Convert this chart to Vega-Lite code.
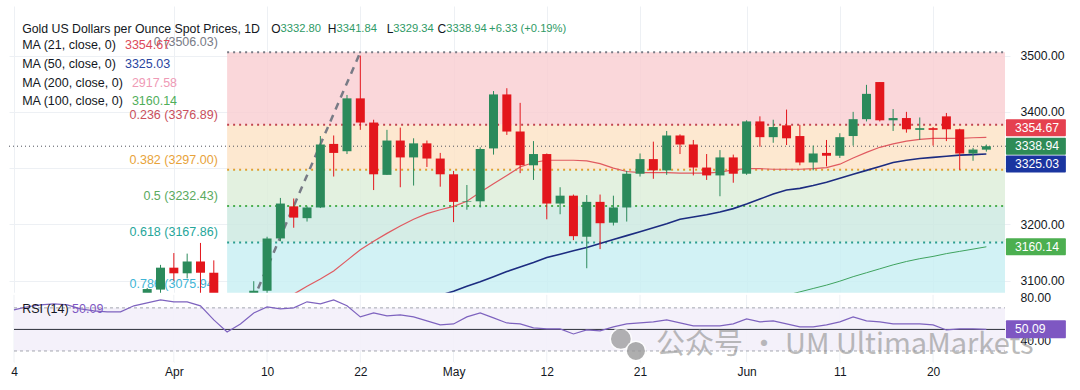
{
"$schema":"https://vega.github.io/schema/vega-lite/v6.json",
"background":"#ffffff",
"autosize":{"type":"fit","contains":"padding"},
"padding":{"left":8,"top":6,"right":9,"bottom":13},
"width":1080,"height":390,
"config":{"view":{"stroke":null},"font":"Liberation Sans","text":{"font":"Liberation Sans"},
 "axis":{"domain":false,"ticks":false,"gridColor":"#edf0f4","gridWidth":1,"labelColor":"#131722","labelFont":"Liberation Sans","labelFontSize":12.2}},
"datasets":{
"candles":[
{"t":-2,"d":"2025-03-28","o":3057,"h":3087,"l":3054,"c":3085},
{"t":-1,"d":"2025-03-31","o":3084,"h":3128,"l":3076,"c":3123},
{"t":0,"d":"2025-04-01","o":3123,"h":3149,"l":3100,"c":3113},
{"t":1,"d":"2025-04-02","o":3113,"h":3148,"l":3104,"c":3134},
{"t":2,"d":"2025-04-03","o":3134,"h":3167,"l":3054,"c":3114},
{"t":3,"d":"2025-04-04","o":3114,"h":3136,"l":3015,"c":3037},
{"t":4,"d":"2025-04-07","o":3037,"h":3055,"l":2957,"c":2982},
{"t":5,"d":"2025-04-08","o":2982,"h":3023,"l":2970,"c":2983},
{"t":6,"d":"2025-04-09","o":2983,"h":3099,"l":2957,"c":3082},
{"t":7,"d":"2025-04-10","o":3082,"h":3178,"l":3073,"c":3175},
{"t":8,"d":"2025-04-11","o":3175,"h":3247,"l":3170,"c":3237},
{"t":9,"d":"2025-04-14","o":3232,"h":3246,"l":3194,"c":3212},
{"t":10,"d":"2025-04-15","o":3211,"h":3232,"l":3205,"c":3230},
{"t":11,"d":"2025-04-16","o":3230,"h":3357,"l":3229,"c":3342},
{"t":12,"d":"2025-04-17","o":3343,"h":3358,"l":3285,"c":3327},
{"t":13,"d":"2025-04-21","o":3330,"h":3430,"l":3325,"c":3424},
{"t":14,"d":"2025-04-22","o":3424,"h":3500,"l":3368,"c":3381},
{"t":15,"d":"2025-04-23","o":3381,"h":3386,"l":3261,"c":3289},
{"t":16,"d":"2025-04-24","o":3288,"h":3368,"l":3288,"c":3349},
{"t":17,"d":"2025-04-25","o":3349,"h":3372,"l":3266,"c":3319},
{"t":18,"d":"2025-04-28","o":3319,"h":3353,"l":3269,"c":3344},
{"t":19,"d":"2025-04-29","o":3344,"h":3349,"l":3302,"c":3317},
{"t":20,"d":"2025-04-30","o":3317,"h":3327,"l":3267,"c":3289},
{"t":21,"d":"2025-05-01","o":3289,"h":3295,"l":3204,"c":3240},
{"t":22,"d":"2025-05-02","o":3240,"h":3270,"l":3226,"c":3241},
{"t":23,"d":"2025-05-05","o":3241,"h":3337,"l":3230,"c":3334},
{"t":24,"d":"2025-05-06","o":3335,"h":3437,"l":3324,"c":3431},
{"t":25,"d":"2025-05-07","o":3431,"h":3442,"l":3359,"c":3365},
{"t":26,"d":"2025-05-08","o":3365,"h":3416,"l":3291,"c":3305},
{"t":27,"d":"2025-05-09","o":3305,"h":3348,"l":3279,"c":3325},
{"t":28,"d":"2025-05-12","o":3325,"h":3326,"l":3209,"c":3237},
{"t":29,"d":"2025-05-13","o":3237,"h":3266,"l":3218,"c":3251},
{"t":30,"d":"2025-05-14","o":3251,"h":3253,"l":3172,"c":3179},
{"t":31,"d":"2025-05-15","o":3178,"h":3252,"l":3122,"c":3240},
{"t":32,"d":"2025-05-16","o":3240,"h":3253,"l":3156,"c":3202},
{"t":33,"d":"2025-05-19","o":3203,"h":3251,"l":3198,"c":3230},
{"t":34,"d":"2025-05-20","o":3230,"h":3295,"l":3205,"c":3290},
{"t":35,"d":"2025-05-21","o":3290,"h":3326,"l":3285,"c":3316},
{"t":36,"d":"2025-05-22","o":3316,"h":3347,"l":3281,"c":3296},
{"t":37,"d":"2025-05-23","o":3296,"h":3366,"l":3288,"c":3358},
{"t":38,"d":"2025-05-26","o":3358,"h":3360,"l":3325,"c":3342},
{"t":39,"d":"2025-05-27","o":3342,"h":3350,"l":3287,"c":3301},
{"t":40,"d":"2025-05-28","o":3301,"h":3325,"l":3279,"c":3287},
{"t":41,"d":"2025-05-29","o":3287,"h":3332,"l":3250,"c":3319},
{"t":42,"d":"2025-05-30","o":3319,"h":3324,"l":3274,"c":3290},
{"t":43,"d":"2025-06-02","o":3290,"h":3385,"l":3288,"c":3383},
{"t":44,"d":"2025-06-03","o":3383,"h":3392,"l":3338,"c":3355},
{"t":45,"d":"2025-06-04","o":3355,"h":3386,"l":3345,"c":3373},
{"t":46,"d":"2025-06-05","o":3376,"h":3404,"l":3341,"c":3353},
{"t":47,"d":"2025-06-06","o":3357,"h":3377,"l":3305,"c":3310},
{"t":48,"d":"2025-06-09","o":3310,"h":3340,"l":3296,"c":3326},
{"t":49,"d":"2025-06-10","o":3327,"h":3350,"l":3303,"c":3322},
{"t":50,"d":"2025-06-11","o":3322,"h":3362,"l":3318,"c":3355},
{"t":51,"d":"2025-06-12","o":3357,"h":3400,"l":3340,"c":3387},
{"t":52,"d":"2025-06-13","o":3387,"h":3448,"l":3383,"c":3432},
{"t":53,"d":"2025-06-16","o":3453,"h":3453,"l":3383,"c":3385},
{"t":54,"d":"2025-06-17","o":3385,"h":3405,"l":3366,"c":3389},
{"t":55,"d":"2025-06-18","o":3389,"h":3400,"l":3363,"c":3369},
{"t":56,"d":"2025-06-19","o":3368,"h":3390,"l":3350,"c":3371},
{"t":57,"d":"2025-06-20","o":3371,"h":3373,"l":3340,"c":3368},
{"t":58,"d":"2025-06-23","o":3392,"h":3398,"l":3348,"c":3369},
{"t":59,"d":"2025-06-24","o":3369,"h":3370,"l":3297,"c":3326},
{"t":60,"d":"2025-06-25","o":3326,"h":3336,"l":3313,"c":3333},
{"t":61,"d":"2025-06-26","o":3332.80,"h":3341.84,"l":3329.34,"c":3338.94}
],
"ma":[
{"s":"MA21","t":3,"v":3035},{"s":"MA21","t":4,"v":3038},{"s":"MA21","t":5,"v":3043},{"s":"MA21","t":6,"v":3050},{"s":"MA21","t":7,"v":3058},{"s":"MA21","t":8,"v":3068},{"s":"MA21","t":9,"v":3076},{"s":"MA21","t":10,"v":3090},{"s":"MA21","t":11,"v":3103},{"s":"MA21","t":12,"v":3117},{"s":"MA21","t":13,"v":3136},{"s":"MA21","t":14,"v":3155},{"s":"MA21","t":15,"v":3170},{"s":"MA21","t":16,"v":3184},{"s":"MA21","t":17,"v":3197},{"s":"MA21","t":18,"v":3209},{"s":"MA21","t":19,"v":3219},{"s":"MA21","t":20,"v":3226},{"s":"MA21","t":21,"v":3232},{"s":"MA21","t":22,"v":3241},{"s":"MA21","t":23,"v":3257},{"s":"MA21","t":24,"v":3272},{"s":"MA21","t":25,"v":3287},{"s":"MA21","t":26,"v":3302},{"s":"MA21","t":27,"v":3310},{"s":"MA21","t":28,"v":3314},{"s":"MA21","t":29,"v":3314},{"s":"MA21","t":30,"v":3314},{"s":"MA21","t":31,"v":3313},{"s":"MA21","t":32,"v":3308},{"s":"MA21","t":33,"v":3300},{"s":"MA21","t":34,"v":3294},{"s":"MA21","t":35,"v":3292},{"s":"MA21","t":36,"v":3292},{"s":"MA21","t":37,"v":3292},{"s":"MA21","t":38,"v":3291},{"s":"MA21","t":39,"v":3291},{"s":"MA21","t":40,"v":3291},{"s":"MA21","t":41,"v":3293},{"s":"MA21","t":42,"v":3297},{"s":"MA21","t":43,"v":3299},{"s":"MA21","t":44,"v":3299},{"s":"MA21","t":45,"v":3298},{"s":"MA21","t":46,"v":3298},{"s":"MA21","t":47,"v":3298},{"s":"MA21","t":48,"v":3299},{"s":"MA21","t":49,"v":3301},{"s":"MA21","t":50,"v":3307},{"s":"MA21","t":51,"v":3318},{"s":"MA21","t":52,"v":3328},{"s":"MA21","t":53,"v":3337},{"s":"MA21","t":54,"v":3343},{"s":"MA21","t":55,"v":3348},{"s":"MA21","t":56,"v":3351},{"s":"MA21","t":57,"v":3353},{"s":"MA21","t":58,"v":3353},{"s":"MA21","t":59,"v":3353},{"s":"MA21","t":60,"v":3354},{"s":"MA21","t":61,"v":3354.67},
{"s":"MA50","t":15,"v":3040},{"s":"MA50","t":16,"v":3047},{"s":"MA50","t":17,"v":3054},{"s":"MA50","t":18,"v":3060},{"s":"MA50","t":19,"v":3067},{"s":"MA50","t":20,"v":3074},{"s":"MA50","t":21,"v":3081},{"s":"MA50","t":22,"v":3090},{"s":"MA50","t":23,"v":3098},{"s":"MA50","t":24,"v":3107},{"s":"MA50","t":25,"v":3116},{"s":"MA50","t":26,"v":3124},{"s":"MA50","t":27,"v":3132},{"s":"MA50","t":28,"v":3141},{"s":"MA50","t":29,"v":3147},{"s":"MA50","t":30,"v":3153},{"s":"MA50","t":31,"v":3159},{"s":"MA50","t":32,"v":3166},{"s":"MA50","t":33,"v":3173},{"s":"MA50","t":34,"v":3180},{"s":"MA50","t":35,"v":3187},{"s":"MA50","t":36,"v":3194},{"s":"MA50","t":37,"v":3201},{"s":"MA50","t":38,"v":3209},{"s":"MA50","t":39,"v":3213},{"s":"MA50","t":40,"v":3217},{"s":"MA50","t":41,"v":3222},{"s":"MA50","t":42,"v":3228},{"s":"MA50","t":43,"v":3236},{"s":"MA50","t":44,"v":3245},{"s":"MA50","t":45,"v":3254},{"s":"MA50","t":46,"v":3261},{"s":"MA50","t":47,"v":3264},{"s":"MA50","t":48,"v":3269},{"s":"MA50","t":49,"v":3275},{"s":"MA50","t":50,"v":3282},{"s":"MA50","t":51,"v":3289},{"s":"MA50","t":52,"v":3296},{"s":"MA50","t":53,"v":3303},{"s":"MA50","t":54,"v":3310},{"s":"MA50","t":55,"v":3314},{"s":"MA50","t":56,"v":3317},{"s":"MA50","t":57,"v":3319},{"s":"MA50","t":58,"v":3321},{"s":"MA50","t":59,"v":3323},{"s":"MA50","t":60,"v":3324},{"s":"MA50","t":61,"v":3325.03},
{"s":"MA100","t":45,"v":3068},{"s":"MA100","t":46,"v":3074},{"s":"MA100","t":47,"v":3080},{"s":"MA100","t":48,"v":3086},{"s":"MA100","t":49,"v":3092},{"s":"MA100","t":50,"v":3099},{"s":"MA100","t":51,"v":3107},{"s":"MA100","t":52,"v":3114},{"s":"MA100","t":53,"v":3121},{"s":"MA100","t":54,"v":3128},{"s":"MA100","t":55,"v":3134},{"s":"MA100","t":56,"v":3139},{"s":"MA100","t":57,"v":3143},{"s":"MA100","t":58,"v":3148},{"s":"MA100","t":59,"v":3152},{"s":"MA100","t":60,"v":3156},{"s":"MA100","t":61,"v":3160.14}
],
"rsi":[
{"t":-12,"v":68.1},{"t":-11,"v":71},{"t":-10,"v":72.8},{"t":-9,"v":73.7},{"t":-8,"v":72.8},{"t":-7,"v":69},{"t":-6,"v":67.2},{"t":-5,"v":66.3},{"t":-4,"v":66.3},{"t":-3,"v":71.9},{"t":-2,"v":74.7},{"t":-1,"v":77.4},{"t":0,"v":75.6},{"t":1,"v":75.6},{"t":2,"v":71.9},{"t":3,"v":58.8},{"t":4,"v":47.7},{"t":5,"v":55.1},{"t":6,"v":65.3},{"t":7,"v":70.9},{"t":8,"v":69},{"t":9,"v":70},{"t":10,"v":75.6},{"t":11,"v":73.7},{"t":12,"v":77.4},{"t":13,"v":71.9},{"t":14,"v":61.6},{"t":15,"v":65.3},{"t":16,"v":62.6},{"t":17,"v":63.5},{"t":18,"v":61.6},{"t":19,"v":57.9},{"t":20,"v":54.2},{"t":21,"v":55.1},{"t":22,"v":61.6},{"t":23,"v":65.3},{"t":24,"v":60.7},{"t":25,"v":56},{"t":26,"v":55.1},{"t":27,"v":51.4},{"t":28,"v":50.5},{"t":29,"v":50.5},{"t":30,"v":45.8},{"t":31,"v":49.5},{"t":32,"v":48.6},{"t":33,"v":52.3},{"t":34,"v":55.1},{"t":35,"v":56},{"t":36,"v":57},{"t":37,"v":58.8},{"t":38,"v":56},{"t":39,"v":53.3},{"t":40,"v":53.3},{"t":41,"v":53.3},{"t":42,"v":55.1},{"t":43,"v":59.8},{"t":44,"v":57},{"t":45,"v":57.9},{"t":46,"v":55.1},{"t":47,"v":52.3},{"t":48,"v":52.3},{"t":49,"v":54.2},{"t":50,"v":57},{"t":51,"v":61.6},{"t":52,"v":57.9},{"t":53,"v":57},{"t":54,"v":55.1},{"t":55,"v":55.1},{"t":56,"v":55.1},{"t":57,"v":54.2},{"t":58,"v":49.5},{"t":59,"v":50.5},{"t":60,"v":50.5},{"t":61,"v":50.09}
],
"fib":[
{"lv":"0","p":3506.03,"txt":"0 (3506.03)"},
{"lv":"0.236","p":3376.89,"txt":"0.236 (3376.89)"},
{"lv":"0.382","p":3297.00,"txt":"0.382 (3297.00)"},
{"lv":"0.5","p":3232.43,"txt":"0.5 (3232.43)"},
{"lv":"0.618","p":3167.86,"txt":"0.618 (3167.86)"},
{"lv":"0.786","p":3075.94,"txt":"0.786 (3075.94)"}
],
"fibBands":[
{"lv":"0.236","top":3506.03,"bot":3376.89},
{"lv":"0.382","top":3376.89,"bot":3297.00},
{"lv":"0.5","top":3297.00,"bot":3232.43},
{"lv":"0.618","top":3232.43,"bot":3167.86},
{"lv":"0.786","top":3167.86,"bot":3075.94}
],
"trend":[{"t":4,"p":2958.84},{"t":14,"p":3506.03}],
"tags":[{"k":"ma21","p":3354.67},{"k":"close","p":3338.94},{"k":"ma50","p":3325.03},{"k":"ma100","p":3160.14}],
"grid":[{"t":-12},{"t":0},{"t":7},{"t":14},{"t":21},{"t":28},{"t":35},{"t":43},{"t":50},{"t":57}]
},
"resolve":{"scale":{"y":"independent","color":"independent"},"axis":{"y":"independent"}},
"layer":[
{
"resolve":{"scale":{"color":"independent"}},
"layer":[
{"data":{"name":"candles"},"mark":{"type":"rule","clip":true,"opacity":0},
 "encoding":{
  "x":{"field":"t","type":"quantitative","title":null,"scale":{"domain":[-12,62.4],"nice":false,"zero":false},"axis":{"values":[-12,0,7,14,21,28,35,43,50,57],"labelExpr":"datum.value==-12?'4':datum.value==0?'Apr':datum.value==7?'10':datum.value==14?'22':datum.value==21?'May':datum.value==28?'12':datum.value==35?'21':datum.value==43?'Jun':datum.value==50?'11':'20'","labelPadding":4,"labelFontSize":12,"grid":true}},
  "y":{"field":"l","type":"quantitative","title":null,"scale":{"domain":[2964.2,3579.3],"nice":false,"zero":false},"axis":{"orient":"right","values":[3100,3200,3300,3400,3500],"labelExpr":"datum.value==3300?'':format(datum.value,'.2f')","labelPadding":10,"grid":true}},
  "y2":{"field":"h"}}},
{"data":{"name":"fibBands"},"mark":{"type":"rect","clip":true,"opacity":0.8},
 "encoding":{"x":{"datum":4},"x2":{"datum":62.4},
  "y":{"field":"top","type":"quantitative","title":null},"y2":{"field":"bot"},
  "color":{"field":"lv","type":"nominal","scale":{"domain":["0.236","0.382","0.5","0.618","0.786"],"range":["#f9cdd1","#fce2c4","#dcedd8","#cae8e0","#c7eff2"]},"legend":null}}},
{"data":{"name":"fib"},"mark":{"type":"rule","clip":true,"strokeDash":[2,4],"strokeWidth":2},
 "encoding":{"x":{"datum":4},"x2":{"datum":62.4},
  "y":{"field":"p","type":"quantitative","title":null},
  "color":{"field":"lv","type":"nominal","scale":{"domain":["0","0.236","0.382","0.5","0.618","0.786"],"range":["#787b86","#c2454f","#e0a030","#4caf50","#2a9d8f","#3cb9d6"]},"legend":null}}},
{"data":{"values":[{"p":3338.94}]},"mark":{"type":"rule","strokeDash":[1,3],"strokeWidth":1,"color":"#50535e"},
 "encoding":{"y":{"field":"p","type":"quantitative","title":null}}},
{"data":{"name":"fib"},"mark":{"type":"text","align":"right","baseline":"bottom","dy":-3,"fontSize":12.5},
 "encoding":{"x":{"datum":3.3},"y":{"field":"p","type":"quantitative","title":null},"text":{"field":"txt"},
  "color":{"field":"lv","type":"nominal","scale":{"domain":["0","0.236","0.382","0.5","0.618","0.786"],"range":["#787b86","#c94f5c","#e8a33a","#5aaa5e","#26a69a","#3fb5d6"]},"legend":null}}},
{"data":{"name":"trend"},"mark":{"type":"line","clip":true,"strokeDash":[7,6],"strokeWidth":2.5,"color":"#787b86"},
 "encoding":{"x":{"field":"t","type":"quantitative","title":null},"y":{"field":"p","type":"quantitative","title":null}}},
{"data":{"name":"ma"},"transform":[{"filter":"datum.s=='MA100'"}],"mark":{"type":"line","clip":true,"strokeWidth":1,"color":"#3fa35f"},
 "encoding":{"x":{"field":"t","type":"quantitative","title":null},"y":{"field":"v","type":"quantitative","title":null}}},
{"data":{"name":"ma"},"transform":[{"filter":"datum.s=='MA50'"}],"mark":{"type":"line","clip":true,"strokeWidth":1.6,"color":"#1c2c80"},
 "encoding":{"x":{"field":"t","type":"quantitative","title":null},"y":{"field":"v","type":"quantitative","title":null}}},
{"data":{"name":"ma"},"transform":[{"filter":"datum.s=='MA21'"}],"mark":{"type":"line","clip":true,"strokeWidth":1.2,"color":"#e05a60"},
 "encoding":{"x":{"field":"t","type":"quantitative","title":null},"y":{"field":"v","type":"quantitative","title":null}}},
{"data":{"name":"candles"},"mark":{"type":"rule","clip":true,"strokeWidth":1},
 "encoding":{"x":{"field":"t","type":"quantitative","title":null},"y":{"field":"l","type":"quantitative","title":null},"y2":{"field":"h"},
  "color":{"condition":{"test":"datum.c>=datum.o","value":"#2b8a5b"},"value":"#e3161c"}}},
{"data":{"name":"candles"},"mark":{"type":"bar","size":9,"clip":true,"minBandSize":1.2},
 "encoding":{"x":{"field":"t","type":"quantitative","title":null},"y":{"field":"o","type":"quantitative","title":null},"y2":{"field":"c"},
  "color":{"condition":{"test":"datum.c>=datum.o","value":"#2b8a5b"},"value":"#e3161c"}}},
{"data":{"name":"tags"},"transform":[{"filter":"datum.k=='ma21'"}],"mark":{"type":"bar","orient":"horizontal","size":17,"cornerRadius":1,"color":"#e5404f","yOffset":-9.5},
 "encoding":{"y":{"field":"p","type":"quantitative","title":null},"x":{"datum":62.47},"x2":{"datum":66.97}}},
{"data":{"name":"tags"},"transform":[{"filter":"datum.k=='close'"}],"mark":{"type":"bar","orient":"horizontal","size":17,"cornerRadius":1,"color":"#2e8b57"},
 "encoding":{"y":{"field":"p","type":"quantitative","title":null},"x":{"datum":62.47},"x2":{"datum":66.97}}},
{"data":{"name":"tags"},"transform":[{"filter":"datum.k=='ma50'"}],"mark":{"type":"bar","orient":"horizontal","size":17,"cornerRadius":1,"color":"#1a35a0","yOffset":10},
 "encoding":{"y":{"field":"p","type":"quantitative","title":null},"x":{"datum":62.47},"x2":{"datum":66.97}}},
{"data":{"name":"tags"},"transform":[{"filter":"datum.k=='ma100'"}],"mark":{"type":"bar","orient":"horizontal","size":17,"cornerRadius":1,"color":"#4caf50"},
 "encoding":{"y":{"field":"p","type":"quantitative","title":null},"x":{"datum":62.47},"x2":{"datum":66.97}}},
{"data":{"name":"tags"},"transform":[{"filter":"datum.k=='ma21'"}],"mark":{"type":"text","align":"left","baseline":"middle","color":"#ffffff","fontSize":12.2,"yOffset":-9.5},
 "encoding":{"y":{"field":"p","type":"quantitative","title":null},"x":{"datum":63.15},"text":{"field":"p","type":"quantitative","format":".2f"}}},
{"data":{"name":"tags"},"transform":[{"filter":"datum.k=='close' || datum.k=='ma100'"}],"mark":{"type":"text","align":"left","baseline":"middle","color":"#ffffff","fontSize":12.2},
 "encoding":{"y":{"field":"p","type":"quantitative","title":null},"x":{"datum":63.15},"text":{"field":"p","type":"quantitative","format":".2f"}}},
{"data":{"name":"tags"},"transform":[{"filter":"datum.k=='ma50'"}],"mark":{"type":"text","align":"left","baseline":"middle","color":"#ffffff","fontSize":12.2,"yOffset":10},
 "encoding":{"y":{"field":"p","type":"quantitative","title":null},"x":{"datum":63.15},"text":{"field":"p","type":"quantitative","format":".2f"}}},
{"data":{"values":[{"s":"Gold US Dollars per Ounce Spot Prices, 1D"}]},"mark":{"type":"text","align":"left","baseline":"middle","fontSize":12.3,"color":"#131722"},
 "encoding":{"x":{"datum":-11.39},"y":{"datum":3548.1},"text":{"field":"s"}}},
{"data":{"values":[{"s":"O"}]},"mark":{"type":"text","align":"right","baseline":"middle","fontSize":12,"color":"#131722"},"encoding":{"x":{"datum":8.01},"y":{"datum":3548.1},"text":{"field":"s"}}},
{"data":{"values":[{"s":"3332.80"}]},"mark":{"type":"text","align":"left","baseline":"middle","fontSize":11.2,"color":"#2f9a66"},"encoding":{"x":{"datum":8.01},"y":{"datum":3548.1},"text":{"field":"s"}}},
{"data":{"values":[{"s":"H"}]},"mark":{"type":"text","align":"right","baseline":"middle","fontSize":12,"color":"#131722"},"encoding":{"x":{"datum":12.21},"y":{"datum":3548.1},"text":{"field":"s"}}},
{"data":{"values":[{"s":"3341.84"}]},"mark":{"type":"text","align":"left","baseline":"middle","fontSize":11.2,"color":"#2f9a66"},"encoding":{"x":{"datum":12.21},"y":{"datum":3548.1},"text":{"field":"s"}}},
{"data":{"values":[{"s":"L"}]},"mark":{"type":"text","align":"right","baseline":"middle","fontSize":12,"color":"#131722"},"encoding":{"x":{"datum":16.48},"y":{"datum":3548.1},"text":{"field":"s"}}},
{"data":{"values":[{"s":"3329.34"}]},"mark":{"type":"text","align":"left","baseline":"middle","fontSize":11.2,"color":"#2f9a66"},"encoding":{"x":{"datum":16.48},"y":{"datum":3548.1},"text":{"field":"s"}}},
{"data":{"values":[{"s":"C"}]},"mark":{"type":"text","align":"right","baseline":"middle","fontSize":12,"color":"#131722"},"encoding":{"x":{"datum":20.45},"y":{"datum":3548.1},"text":{"field":"s"}}},
{"data":{"values":[{"s":"3338.94"}]},"mark":{"type":"text","align":"left","baseline":"middle","fontSize":11.2,"color":"#2f9a66"},"encoding":{"x":{"datum":20.45},"y":{"datum":3548.1},"text":{"field":"s"}}},
{"data":{"values":[{"s":"+6.33 (+0.19%)"}]},"mark":{"type":"text","align":"left","baseline":"middle","fontSize":11.2,"color":"#2f9a66"},"encoding":{"x":{"datum":23.67},"y":{"datum":3548.1},"text":{"field":"s"}}},
{"data":{"values":[{"s":"MA (21, close, 0)"}]},"mark":{"type":"text","align":"left","baseline":"middle","fontSize":12.5,"color":"#131722"},"encoding":{"x":{"datum":-11.39},"y":{"datum":3518.7},"text":{"field":"s"}}},
{"data":{"values":[{"s":"3354.67"}]},"mark":{"type":"text","align":"left","baseline":"middle","fontSize":12.5,"color":"#dd4a5a"},"encoding":{"x":{"datum":-3.67},"y":{"datum":3518.7},"text":{"field":"s"}}},
{"data":{"values":[{"s":"MA (50, close, 0)"}]},"mark":{"type":"text","align":"left","baseline":"middle","fontSize":12.5,"color":"#131722"},"encoding":{"x":{"datum":-11.39},"y":{"datum":3484.8},"text":{"field":"s"}}},
{"data":{"values":[{"s":"3325.03"}]},"mark":{"type":"text","align":"left","baseline":"middle","fontSize":12.5,"color":"#2a45a0"},"encoding":{"x":{"datum":-3.67},"y":{"datum":3484.8},"text":{"field":"s"}}},
{"data":{"values":[{"s":"MA (200, close, 0)"}]},"mark":{"type":"text","align":"left","baseline":"middle","fontSize":12.5,"color":"#131722"},"encoding":{"x":{"datum":-11.39},"y":{"datum":3451.5},"text":{"field":"s"}}},
{"data":{"values":[{"s":"2917.58"}]},"mark":{"type":"text","align":"left","baseline":"middle","fontSize":12.5,"color":"#ef9ab5"},"encoding":{"x":{"datum":-3.15},"y":{"datum":3451.5},"text":{"field":"s"}}},
{"data":{"values":[{"s":"MA (100, close, 0)"}]},"mark":{"type":"text","align":"left","baseline":"middle","fontSize":12.5,"color":"#131722"},"encoding":{"x":{"datum":-11.39},"y":{"datum":3418.9},"text":{"field":"s"}}},
{"data":{"values":[{"s":"3160.14"}]},"mark":{"type":"text","align":"left","baseline":"middle","fontSize":12.5,"color":"#4fae5a"},"encoding":{"x":{"datum":-3.15},"y":{"datum":3418.9},"text":{"field":"s"}}}
]
},
{
"layer":[
{"data":{"values":[{"s":"gap"}]},"mark":{"type":"rect","color":"#ffffff","clip":true},
 "encoding":{"x":{"datum":-12},"x2":{"datum":62.4},"y":{"datum":83.95},"y2":{"datum":0}}},
{"data":{"name":"grid"},"mark":{"type":"rule","color":"#edf0f4","strokeWidth":1,"clip":true},
 "encoding":{"x":{"field":"t","type":"quantitative","title":null},"y":{"datum":82.09},"y2":{"datum":0}}},
{"data":{"values":[{"a":70,"b":30}]},"mark":{"type":"rect","color":"#f3effa","opacity":0.9},
 "encoding":{"x":{"datum":-12},"x2":{"datum":62.4},"y":{"field":"a","type":"quantitative","title":null},"y2":{"field":"b"}}},
{"data":{"values":[{"v":70},{"v":30}]},"mark":{"type":"rule","strokeDash":[3,3],"strokeWidth":1,"color":"#a3a6af"},
 "encoding":{"x":{"datum":-12},"x2":{"datum":62.4},"y":{"field":"v","type":"quantitative","title":null}}},
{"data":{"values":[{"v":50}]},"mark":{"type":"rule","strokeWidth":1,"color":"#2a2e39"},
 "encoding":{"x":{"datum":-12},"x2":{"datum":62.4},"y":{"field":"v","type":"quantitative","title":null}}},
{"data":{"name":"rsi"},"mark":{"type":"line","strokeWidth":1.2,"color":"#7e63bf"},
 "encoding":{
  "x":{"field":"t","type":"quantitative","title":null},
  "y":{"field":"v","type":"quantitative","title":null,"scale":{"domain":[24.42,345.35],"nice":false,"zero":false},"axis":{"orient":"right","values":[40,80],"format":".2f","labelPadding":10,"grid":false}}}},
{"data":{"values":[{"s":"公众号 · UM UltimaMarkets"}]},"mark":{"type":"text","align":"left","baseline":"middle","font":"Noto Sans CJK SC","fontSize":29,"color":"#8f8f8f","opacity":0.6},
 "encoding":{"x":{"datum":36.2},"y":{"datum":35.6},"text":{"field":"s"}}},
{"data":{"values":[{"s":"icon"}]},"mark":{"type":"point","filled":true,"size":450,"color":"#9a9a9a","opacity":0.75,"stroke":"#ffffff","strokeWidth":1.5},
 "encoding":{"x":{"datum":33.56},"y":{"datum":41.2}}},
{"data":{"values":[{"s":"icon"}]},"mark":{"type":"point","filled":true,"size":380,"color":"#9a9a9a","opacity":0.8,"stroke":"#ffffff","strokeWidth":1.5},
 "encoding":{"x":{"datum":34.69},"y":{"datum":30.0}}},
{"data":{"values":[{"p":50.09}]},"mark":{"type":"bar","orient":"horizontal","size":18,"cornerRadius":1,"color":"#7e57c2"},
 "encoding":{"y":{"field":"p","type":"quantitative","title":null},"x":{"datum":62.47},"x2":{"datum":66.97}}},
{"data":{"values":[{"p":50.09}]},"mark":{"type":"text","align":"left","baseline":"middle","color":"#ffffff","fontSize":12.2},
 "encoding":{"y":{"field":"p","type":"quantitative","title":null},"x":{"datum":63.15},"text":{"field":"p","type":"quantitative","format":".2f"}}},
{"data":{"values":[{"s":"RSI (14)"}]},"mark":{"type":"text","align":"left","baseline":"middle","fontSize":12.5,"color":"#131722"},"encoding":{"x":{"datum":-11.39},"y":{"datum":69.1},"text":{"field":"s"}}},
{"data":{"values":[{"s":"50.09"}]},"mark":{"type":"text","align":"left","baseline":"middle","fontSize":12.5,"color":"#7e57c2"},"encoding":{"x":{"datum":-7.64},"y":{"datum":69.1},"text":{"field":"s"}}}
]
}
]
}
